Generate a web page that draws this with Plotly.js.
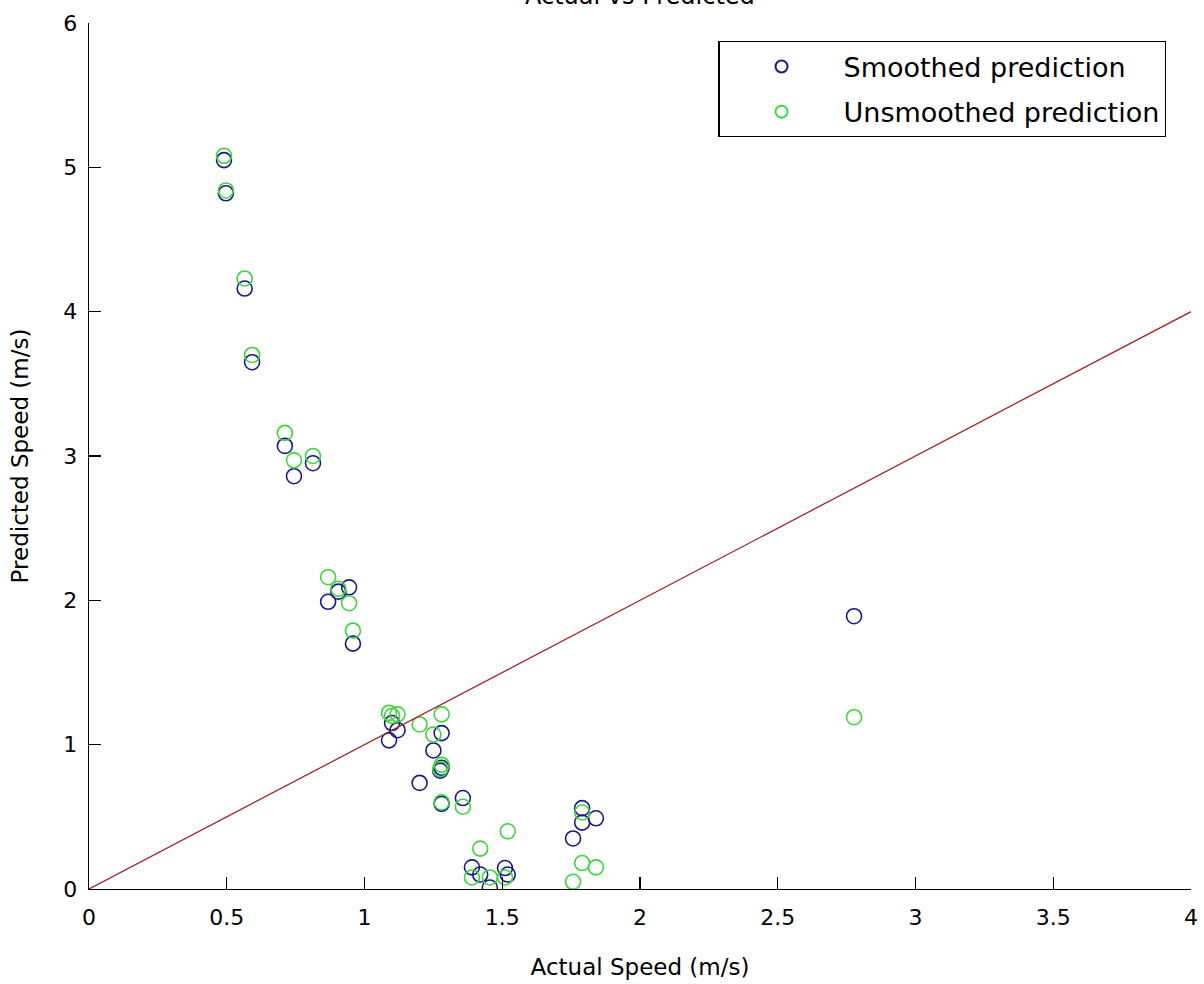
<!DOCTYPE html>
<html>
<head>
<meta charset="utf-8">
<script src="https://cdn.plot.ly/plotly-3.0.1.min.js"></script>
<style>html,body{margin:0;padding:0;background:#fff;}#chart{width:1204px;height:984px;}</style>
</head>
<body>
<div id="chart"></div>
<script>
var chartTitle = "Actual vs Predicted";
var xLabel = "Actual Speed (m/s)";
var yLabel = "Predicted Speed (m/s)";
var seriesNames = ["Smoothed prediction", "Unsmoothed prediction"];

var actualSpeed    = [0.490, 0.497, 0.565, 0.592, 0.711, 0.744, 0.813, 0.868, 0.905, 0.944, 0.958, 1.089, 1.100, 1.120, 1.200, 1.250, 1.280, 1.280, 1.275, 1.280, 1.357, 1.390, 1.420, 1.455, 1.510, 1.520, 1.757, 1.790, 1.790, 1.840, 2.777];
var smoothedPred   = [5.05, 4.82, 4.16, 3.65, 3.07, 2.86, 2.95, 1.99, 2.06, 2.09, 1.70, 1.03, 1.15, 1.10, 0.735, 0.96, 1.08, 0.84, 0.82, 0.59, 0.63, 0.15, 0.10, 0.01, 0.145, 0.10, 0.35, 0.56, 0.46, 0.49, 1.89];
var unsmoothedPred = [5.08, 4.84, 4.23, 3.70, 3.16, 2.97, 3.00, 2.16, 2.08, 1.98, 1.79, 1.22, 1.20, 1.21, 1.14, 1.07, 1.21, 0.86, 0.83, 0.60, 0.57, 0.08, 0.28, 0.08, 0.08, 0.40, 0.05, 0.18, 0.53, 0.15, 1.19];

var refLineX = [0, 4];
var refLineY = [0, 4];
var xTicks = [0, 0.5, 1, 1.5, 2, 2.5, 3, 3.5, 4];
var xTickText = ["0", "0.5", "1", "1.5", "2", "2.5", "3", "3.5", "4"];
var yTicks = [0, 1, 2, 3, 4, 5, 6];

var FONT = "DejaVu Sans, Liberation Sans, Arial, sans-serif";

var traces = [
  {
    x: actualSpeed, y: smoothedPred, name: seriesNames[0], legendgroup: "s",
    type: "scatter", mode: "markers",
    marker: {symbol: "circle-open", size: 15, color: "#1a1a85", line: {width: 1.6, color: "#1a1a85"}}
  },
  {
    x: actualSpeed, y: unsmoothedPred, name: seriesNames[1], legendgroup: "u",
    type: "scatter", mode: "markers",
    marker: {symbol: "circle-open", size: 15, color: "#3ed43e", line: {width: 1.6, color: "#3ed43e"}}
  },
  {
    x: refLineX, y: refLineY, type: "scatter", mode: "lines", showlegend: false,
    line: {color: "#a0282a", width: 1.3}, hoverinfo: "skip"
  }
];

var layout = {
  width: 1204, height: 984,
  margin: {l: 89, r: 13, t: 23, b: 95, pad: 0},
  paper_bgcolor: "#ffffff", plot_bgcolor: "#ffffff",
  font: {family: FONT, size: 22, color: "#000"},
  showlegend: true,
  legend: {
    x: 0.571, y: 0.979, xanchor: "left", yanchor: "top",
    bgcolor: "#ffffff", bordercolor: "#000", borderwidth: 1.3,
    font: {family: FONT, size: 27, color: "#000"},
    itemwidth: 114, traceorder: "grouped", tracegroupgap: 7, itemsizing: "constant"
  },
  xaxis: {
    range: [0, 4], tickvals: xTicks, ticktext: xTickText,
    ticks: "inside", ticklen: 12, tickwidth: 1.3, tickcolor: "#000",
    showline: true, linecolor: "#000", linewidth: 1.3, mirror: false,
    showgrid: false, zeroline: false, ticklabelstandoff: 8,
    tickfont: {family: FONT, size: 22, color: "#000"},
    title: {text: xLabel, font: {family: FONT, size: 23, color: "#000"}, standoff: 30}
  },
  yaxis: {
    range: [0, 6], tickvals: yTicks,
    ticks: "inside", ticklen: 12, tickwidth: 1.3, tickcolor: "#000",
    showline: true, linecolor: "#000", linewidth: 1.3, mirror: false,
    showgrid: false, zeroline: false, ticklabelstandoff: 6,
    tickfont: {family: FONT, size: 22, color: "#000"},
    title: {text: yLabel, font: {family: FONT, size: 23, color: "#000"}, standoff: 28}
  },
  annotations: [
    {text: chartTitle, xref: "paper", yref: "paper", x: 0.5, y: 1.031, xanchor: "center", yanchor: "middle",
     showarrow: false, font: {family: FONT, size: 24, color: "#000"}}
  ]
};

Plotly.newPlot("chart", traces, layout, {displayModeBar: false, staticPlot: true});
</script>
</body>
</html>
